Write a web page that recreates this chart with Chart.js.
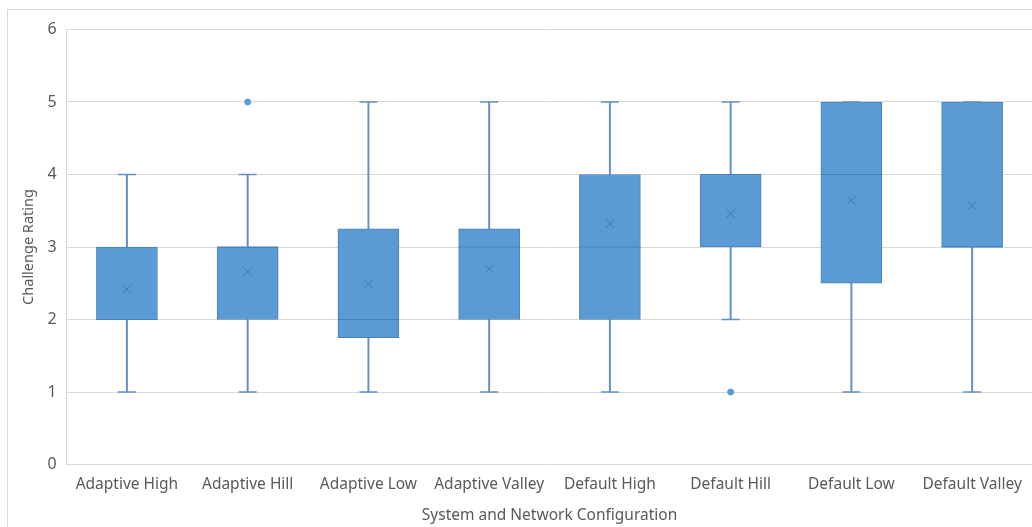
<!DOCTYPE html>
<html lang="en">
<head>
  <meta charset="UTF-8" />
  <title>Challenge Rating by Configuration</title>
  <script src="https://cdn.jsdelivr.net/npm/chart.js"></script>
  <style>
    html, body {
      margin: 0;
      padding: 0;
      background: #fff;
      overflow: hidden;
    }
    .frame {
      position: absolute;
      left: 7px;
      top: 9px;
      width: 1100px;
      height: 600px;
      border: 1px solid #d9d9d9;
    }
    .wrap {
      position: absolute;
      left: 0;
      top: -2px;
      width: 1064px;
      height: 529px;
    }
  </style>
</head>
<body>
  <div class="frame"></div>
  <div class="wrap"><canvas id="box-chart" width="1064" height="529"></canvas></div>

  <script>
    const configs = ["Adaptive High", "Adaptive Hill", "Adaptive Low", "Adaptive Valley",
                     "Default High", "Default Hill", "Default Low", "Default Valley"];
    const whiskerMin = [1, 1, 1, 1, 1, 2, 1, 1];
    const q1         = [2, 2, 1.75, 2, 2, 3, 2.5, 3];
    const median     = [2, 3, 2, 3, 3, 4, 4, 3];
    const q3         = [3, 3, 3.25, 3.25, 4, 4, 5, 5];
    const whiskerMax = [4, 4, 5, 5, 5, 5, 5, 5];
    const means      = [2.42, 2.66, 2.49, 2.70, 3.32, 3.46, 3.64, 3.57];
    const outliers   = [null, 5, null, null, null, 1, null, null];
    const yTicks     = [0, 1, 2, 3, 4, 5, 6];

    const boxFill = "#5b9bd5";
    const boxEdge = "#4a80b8";
    const whiskerCol = "#6190c4";
    const textGrey = "#595959";
    const font = "'Noto Sans', 'Open Sans', sans-serif";

    const boxes = configs.map((c, i) => [q1[i], q3[i]]);
    const whiskers = configs.map((c, i) => [whiskerMin[i], whiskerMax[i]]);

    // point markers; note the wide median "line" point also sets chart min padding (~31px)
    const marker = (label, data, style, radius, color, width, fill) => ({
      type: "line",
      label,
      data,
      showLine: false,
      pointStyle: style,
      pointRadius: radius,
      pointBorderColor: color,
      pointBackgroundColor: fill || color,
      pointBorderWidth: width,
      order: 0
    });

    new Chart(document.getElementById("box-chart").getContext("2d"), {
      type: "bar",
      data: {
        labels: configs,
        datasets: [
          {
            label: "whisker",
            data: whiskers,
            backgroundColor: whiskerCol,
            barThickness: 1.3,
            grouped: false,
            order: 3
          },
          {
            label: "box",
            data: boxes,
            backgroundColor: boxFill,
            borderColor: boxEdge,
            borderWidth: 1,
            borderSkipped: false,
            barThickness: 61,
            grouped: false,
            order: 2
          },
          marker("median", median, "line", 30.5, boxEdge, 1),
          marker("min", whiskerMin, "line", 9, whiskerCol, 1.3),
          marker("max", whiskerMax, "line", 9, whiskerCol, 1.3),
          marker("mean", means, "crossRot", 6, "rgba(60,100,145,0.7)", 1),
          marker("outlier", outliers, "circle", 3, boxFill, 1, boxFill)
        ]
      },
      options: {
        responsive: false,
        animation: false,
        events: [],
        layout: { padding: { top: 0, left: 20, right: 0, bottom: 2 } },
        plugins: {
          legend: { display: false },
          tooltip: { enabled: false }
        },
        scales: {
          x: {
            grid: { display: false, drawTicks: false },
            border: { display: false },
            ticks: { color: textGrey, font: { family: font, size: 15.5 }, padding: 11.2, maxRotation: 0 },
            title: {
              display: true,
              text: "System and Network Configuration",
              color: textGrey,
              font: { family: font, size: 15.5 },
              padding: { top: 0.9, bottom: 0 }
            }
          },
          y: {
            min: 0,
            max: 6,
            afterBuildTicks: axis => { axis.ticks = yTicks.map(v => ({ value: v })); },
            grid: { color: "#d9d9d9", drawTicks: false },
            border: { color: "#d9d9d9" },
            ticks: { color: textGrey, font: { family: font, size: 16 }, padding: 10 },
            title: {
              display: true,
              text: "Challenge Rating",
              color: textGrey,
              font: { family: font, size: 14.5 },
              padding: { top: 0, bottom: 0 }
            }
          }
        }
      }
    });
  </script>
</body>
</html>
